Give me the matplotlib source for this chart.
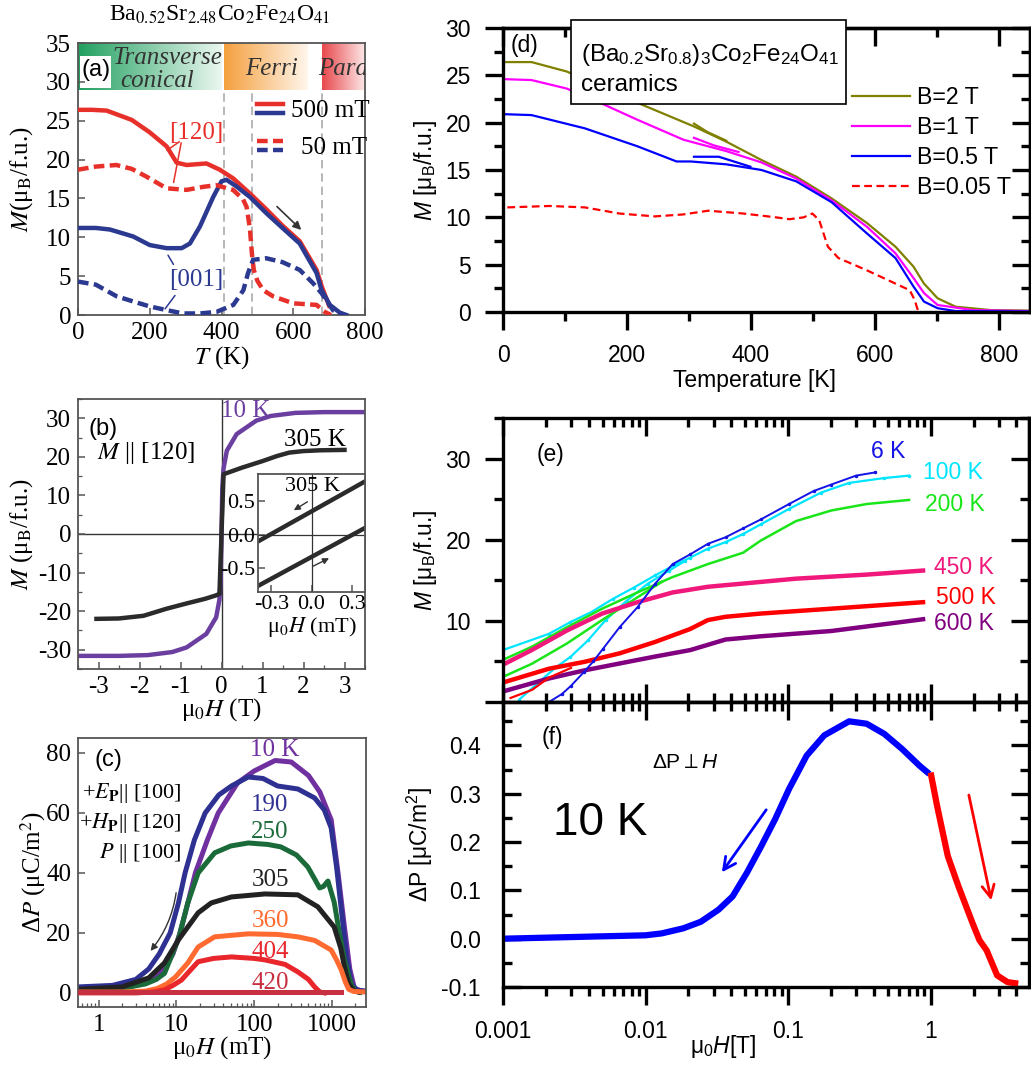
import numpy as np
import matplotlib
matplotlib.use('Agg')
import matplotlib.pyplot as plt
import matplotlib.colors as mcolors
from matplotlib.lines import Line2D
from matplotlib.patches import Rectangle
from matplotlib.legend_handler import HandlerBase
from matplotlib.ticker import (MultipleLocator, FixedLocator, LogLocator,
                               NullFormatter, FixedFormatter, FormatStrFormatter,
                               FuncFormatter, NullLocator)

plt.rcParams['font.family'] = ['Liberation Sans', 'DejaVu Sans']
plt.rcParams['mathtext.fontset'] = 'custom'
plt.rcParams['mathtext.rm'] = 'Liberation Sans'
plt.rcParams['mathtext.it'] = 'Liberation Sans:italic'
plt.rcParams['mathtext.bf'] = 'Liberation Sans:bold'
plt.rcParams['mathtext.fallback'] = 'stixsans'
plt.rcParams['axes.unicode_minus'] = False

SERIF = ['Liberation Serif', 'DejaVu Serif']
SF = dict(family=SERIF, math_fontfamily='stix')

# ------------------------------------------------------------------ data (a)
Ta_500_120 = [0, 40, 80, 150, 200, 247, 275, 303, 330, 358, 395, 432, 480, 525, 570, 618, 665, 680, 700]
Ma_500_120 = [26.4, 26.4, 26.3, 25.1, 23.5, 21.7, 19.6, 19.3, 19.4, 19.5, 18.7, 17.6, 15.6, 13.6, 11.5, 9.5, 5.8, 3.6, 1.2]
Ta_500_001 = [0, 50, 89, 154, 200, 247, 289, 312, 340, 377, 400, 414, 440, 479, 525, 570, 618, 665, 679, 702, 730, 748]
Ma_500_001 = [11.2, 11.2, 11.0, 10.1, 9.0, 8.6, 8.6, 9.2, 11.4, 15.2, 17.2, 17.4, 16.6, 15.2, 13.1, 11.2, 9.2, 5.4, 3.2, 1.3, 0.3, 0.0]
Ta_50_120 = [0, 50, 107, 150, 191, 247, 303, 350, 386, 432, 460, 470, 479, 485, 490, 500, 516, 544, 600, 665, 688, 705]
Ma_50_120 = [18.7, 19.1, 19.3, 18.8, 17.8, 16.3, 16.1, 16.5, 16.7, 16.1, 14.9, 13.9, 11.2, 7.8, 5.8, 4.4, 3.2, 2.4, 1.5, 1.3, 0.4, 0.0]
Ta_50_001 = [0, 50, 108, 150, 200, 250, 293, 340, 386, 433, 461, 474, 488, 525, 570, 618, 655, 679, 711, 739]
Ma_50_001 = [4.3, 3.9, 2.4, 1.8, 1.1, 0.6, 0.2, 0.2, 0.4, 1.3, 3.2, 5.4, 7.1, 7.3, 6.8, 5.8, 4.1, 2.8, 0.6, 0.0]
phase_names = ['Transverse\nconical', 'Ferri', 'Para']

# ------------------------------------------------------------------ data (b)
Hb_10K = [-3.5, -2.5, -1.8, -1.2, -0.85, -0.37, -0.13, -0.05, -0.02, 0.02, 0.05, 0.13, 0.37, 0.85, 1.2, 1.8, 2.5, 3.5]
Mb_10K = [-31.6, -31.6, -31.4, -30.6, -29.4, -25.9, -21.6, -17.0, -12.0, 12.0, 17.0, 21.6, 25.9, 29.4, 30.6, 31.4, 31.6, 31.6]
Hb_305K = [-3.05, -2.5, -1.9, -1.35, -0.85, -0.4, -0.13, -0.05, 0.05, 0.13, 0.5, 1.0, 1.35, 1.65, 2.0, 2.4, 3.0]
Mb_305K = [-22.0, -21.9, -21.2, -19.4, -18.0, -16.8, -15.9, -15.5, 15.5, 15.8, 17.2, 18.9, 20.2, 21.1, 21.5, 21.7, 21.8]
Hi_up = [-0.4, 0.4]
Mi_up = [-0.10, 0.79]
Hi_dn = [-0.4, 0.4]
Mi_dn = [-0.76, 0.10]

# ------------------------------------------------------------------ data (c)
c_labels = ['10 K', '190', '250', '305', '360', '404', '420']
Hc_10 = [0.55, 1.5, 3, 5, 7, 9, 11.1, 14, 17.5, 25, 34.5, 61, 100, 186, 300, 500, 700, 980, 1200, 1450, 1700, 1950, 2300, 2700]
Pc_10 = [1.5, 1.8, 2.5, 4.5, 8, 13, 20, 30, 40, 51, 60, 70, 74, 77.5, 77, 72.5, 67, 57.7, 40, 22, 8, 1.5, 0.8, 0.6]
Hc_190 = [0.55, 1.5, 3, 4.4, 6, 8.3, 10.6, 12.9, 17, 23.4, 35, 51, 84, 130, 200, 365, 600, 800, 980, 1150, 1320, 1550, 1780, 2100, 2700]
Pc_190 = [2, 2.5, 4.5, 8, 13, 20, 30, 40, 51, 60, 66, 69, 72, 71.5, 69, 68, 65, 61, 55, 42, 28, 12, 3, 1, 0.5]
Hc_250 = [0.55, 2, 4, 5.5, 7, 10.6, 14, 19, 31, 50, 84, 150, 220, 350, 490, 600, 695, 780, 890, 1070, 1250, 1450, 1780, 2000, 2300]
Pc_250 = [1, 1.5, 3, 4.5, 6.5, 18, 30, 40, 46.7, 49, 50, 49.5, 48.7, 46, 42, 38, 35, 35.5, 37.3, 30.3, 20, 11, 2.6, 0.5, 0.2]
Hc_305 = [0.55, 2, 4.4, 7, 10.6, 12.3, 19, 28, 51, 138, 365, 660, 1070, 1300, 1450, 1650, 1900, 2200]
Pc_305 = [1.2, 2, 5, 10, 17.7, 20, 26.7, 30, 32, 33, 32.7, 28.7, 22, 15, 8.7, 3, 0.8, 0.3]
Hc_360 = [0.55, 2, 4, 5.7, 7.5, 9.7, 14, 19, 31, 84, 200, 365, 600, 980, 1150, 1320, 1500, 1650, 1900, 2700]
Pc_360 = [0.3, 0.3, 0.6, 1.5, 3, 5.3, 10, 15.3, 18.7, 19.7, 19.5, 18.7, 17.5, 14.3, 11, 7.7, 3.5, 1.2, 0.5, 0.3]
Hc_404 = [0.55, 3, 5, 7, 9, 11.6, 15, 19, 30, 51, 100, 138, 250, 365, 500, 600, 700, 800]
Pc_404 = [0, 0, 0.3, 1, 2.5, 4.3, 7.5, 10.4, 11.5, 12, 11.5, 11, 9.5, 7, 4.5, 2, 0.3, 0]
Hc_420 = [0.55, 1300]
Pc_420 = [0.2, 0.2]

# ------------------------------------------------------------------ data (d)
d_labels = ['B=2 T', 'B=1 T', 'B=0.5 T', 'B=0.05 T']
Td_2T = [0, 46, 103, 150, 206, 257, 308, 360, 417, 473, 530, 587, 633, 662, 679, 701, 730, 787, 850]
Md_2T = [26.4, 26.4, 25.4, 24.0, 22.4, 21.0, 19.6, 18.0, 16.05, 14.3, 12.0, 9.4, 6.9, 4.8, 3.0, 1.45, 0.56, 0.2, 0.15]
Td_2T_b = [308, 330, 360]
Md_2T_b = [19.9, 19.0, 18.1]
Td_1T = [0, 46, 103, 160, 217, 291, 308, 360, 417, 473, 530, 587, 633, 662, 679, 701, 758, 850]
Md_1T = [24.6, 24.5, 23.6, 22.0, 20.3, 18.2, 17.9, 17.0, 15.8, 14.1, 11.8, 9.0, 6.2, 3.6, 2.0, 0.74, 0.2, 0.1]
Td_1T_b = [308, 340, 380]
Md_1T_b = [18.4, 17.6, 16.9]
Td_05T = [0, 46, 132, 217, 280, 303, 360, 417, 473, 530, 587, 633, 662, 679, 701, 730, 850]
Md_05T = [20.9, 20.8, 19.4, 17.5, 15.9, 15.9, 15.6, 15.0, 13.8, 11.6, 8.3, 5.7, 2.7, 1.1, 0.4, 0.1, 0.05]
Td_05T_b = [308, 348, 399]
Md_05T_b = [16.4, 16.4, 15.35]
Td_005T = [7, 75, 132, 188, 245, 290, 331, 388, 440, 462, 485, 499, 510, 524, 541, 587, 633, 656, 664, 670]
Md_005T = [11.05, 11.2, 11.05, 10.4, 10.1, 10.3, 10.7, 10.4, 10.0, 9.8, 10.0, 10.4, 9.7, 6.9, 5.7, 4.4, 3.0, 2.3, 1.27, 0.0]

# ------------------------------------------------------------------ data (e)
e_labels = ['6 K', '100 K', '200 K', '450 K', '500 K', '600 K']
He_6 = [0.0021, 0.0026, 0.0030, 0.0037, 0.0043, 0.0050, 0.0066, 0.0088, 0.0117, 0.0155, 0.0206, 0.0274, 0.0364, 0.0484, 0.0644, 0.1016, 0.151, 0.201, 0.30, 0.41]
Me_6 = [0, 1.0, 2.0, 3.7, 5.0, 6.5, 9.25, 11.7, 14.6, 17.0, 18.2, 19.5, 20.3, 21.4, 22.5, 24.4, 26.0, 26.8, 27.9, 28.3]
He_100 = [0.001, 0.0021, 0.00297, 0.00418, 0.00589, 0.00828, 0.01167, 0.0164, 0.0206, 0.0274, 0.0364, 0.0484, 0.0644, 0.1016, 0.17, 0.268, 0.473, 0.706]
Me_100 = [6.4, 8.4, 9.85, 11.1, 12.7, 14.1, 15.6, 17.0, 17.8, 18.9, 19.7, 20.7, 21.9, 23.8, 25.8, 27.0, 27.6, 27.9]
He_100_b = [0.0013, 0.0018, 0.00236, 0.00297, 0.00395, 0.00525, 0.0074, 0.0104, 0.01465, 0.019]
Me_100_b = [0.3, 2.5, 4.3, 5.55, 7.6, 10.1, 12.5, 14.6, 16.2, 17.4]
He_200 = [0.001, 0.00159, 0.0028, 0.00496, 0.00877, 0.0155, 0.0274, 0.0484, 0.0644, 0.1138, 0.201, 0.356, 0.706]
Me_200 = [5.2, 6.8, 9.2, 11.5, 13.5, 15.4, 17.0, 18.4, 19.9, 22.3, 23.6, 24.4, 24.9]
He_200_b = [0.001, 0.00159, 0.0028, 0.00496, 0.00877, 0.013]
Me_200_b = [3.1, 4.7, 7.2, 10.1, 12.9, 14.8]
He_450 = [0.001, 0.00159, 0.0028, 0.00496, 0.00877, 0.0155, 0.0274, 0.0484, 0.1138, 0.356, 0.885]
Me_450 = [4.6, 6.4, 8.8, 10.9, 12.3, 13.5, 14.2, 14.6, 15.2, 15.7, 16.2]
He_500 = [0.001, 0.0021, 0.00373, 0.00659, 0.01167, 0.0206, 0.0274, 0.0364, 0.0644, 0.201, 0.885]
Me_500 = [2.4, 4.1, 4.95, 6.0, 7.4, 9.0, 10.1, 10.5, 10.9, 11.5, 12.3]
He_500_b = [0.00113, 0.0016, 0.0021, 0.003]
Me_500_b = [0.5, 1.5, 3.0, 4.2]
He_600 = [0.001, 0.0021, 0.00373, 0.00659, 0.01167, 0.0206, 0.0364, 0.0644, 0.201, 0.885]
Me_600 = [1.3, 2.9, 3.9, 4.75, 5.6, 6.4, 7.7, 8.1, 8.75, 10.2]

# ------------------------------------------------------------------ data (f)
Hf_down = [0.001, 0.00265, 0.01, 0.013, 0.0184, 0.0244, 0.0325, 0.0408, 0.0513, 0.0644, 0.081, 0.1016, 0.135, 0.1795, 0.268, 0.356, 0.473, 0.629, 0.837, 0.98]
Pf_down = [0.0, 0.003, 0.007, 0.011, 0.0215, 0.035, 0.06, 0.0875, 0.136, 0.19, 0.247, 0.31, 0.379, 0.421, 0.45, 0.445, 0.424, 0.393, 0.358, 0.341]
Hf_up = [1.0, 1.11, 1.32, 1.57, 1.97, 2.2, 2.47, 2.93, 3.47, 4.12]
Pf_up = [0.344, 0.275, 0.171, 0.108, 0.032, -0.003, -0.024, -0.076, -0.09, -0.093]

# ================================================================== figure
W, H = 1031, 1070
fig = plt.figure(figsize=(W / 100, H / 100), dpi=100)


def rect(x0, y0, x1, y1):
    return [x0 / W, 1 - y1 / H, (x1 - x0) / W, (y1 - y0) / H]


def serif_axes(ax, size=18):
    for s in ax.spines.values():
        s.set_color('#555555')
        s.set_linewidth(1.3)
    ax.tick_params(which='both', direction='in', color='#555555', labelsize=size,
                   labelfontfamily=SERIF, pad=5)
    ax.tick_params(which='major', length=5, width=1.1)
    ax.tick_params(which='minor', length=3, width=0.9)


SW = 2.4


def sans_common(ax):
    for s in ax.spines.values():
        s.set_linewidth(SW)
    ax.tick_params(which='both', width=SW, labelsize=16.5, color='black')
    ax.tick_params(which='major', length=13)
    ax.tick_params(which='minor', length=6.5)


def sec_axis(ax, side, major, minor):
    if side in ('top', 'bottom'):
        sec = ax.secondary_xaxis(side)
        a = sec.xaxis
    else:
        sec = ax.secondary_yaxis(side)
        a = sec.yaxis
    a.set_major_locator(major)
    a.set_minor_locator(minor)
    a.set_major_formatter(NullFormatter())
    a.set_minor_formatter(NullFormatter())
    sec.tick_params(which='both', direction='in', width=SW)
    sec.tick_params(which='major', length=13)
    sec.tick_params(which='minor', length=6.5)
    sec.spines[side].set_linewidth(SW)
    return sec


class TwoLines(HandlerBase):
    def create_artists(self, legend, orig_handle, xdescent, ydescent, width, height, fontsize, trans):
        out = []
        for h, dy in zip(orig_handle, (3.2, -3.2)):
            y = height / 2 - ydescent + dy
            ln = Line2D([-xdescent, -xdescent + width], [y, y])
            ln.update_from(h)
            ln.set_transform(trans)
            out.append(ln)
        return out


# ------------------------------------------------------------------ panel (a)
RED_A, BLUE_A = '#E8302A', '#2B3990'
axA = fig.add_axes(rect(78, 43, 365, 315))
serif_axes(axA)
BAND_Y0 = 28.9


def band(ax, x0, x1, c0, c1):
    t = np.linspace(0, 1, 200)[:, None]
    a = np.array(mcolors.to_rgb(c0))
    b = np.array(mcolors.to_rgb(c1))
    img = (a * (1 - t) + b * t)[None, :, :]
    ax.imshow(img, extent=[x0, x1, BAND_Y0, 35], aspect='auto', interpolation='bilinear', zorder=0.5)


band(axA, 0, 400, '#22A060', '#EAF7F0')
band(axA, 408, 640, '#F4A03E', '#FFF6EC')
band(axA, 680, 795, '#E8484C', '#FCE3E3')
axA.add_patch(Rectangle((5, 29.2), 88, 4.1, fc='white', ec='none', zorder=1))
for xv in (407, 485, 679):
    axA.plot([xv, xv], [0, BAND_Y0], color='#AAAAAA', lw=1.2, dashes=(5, 3), zorder=1)

l1, = axA.plot(Ta_500_120, Ma_500_120, color=RED_A, lw=3.2, zorder=3)
l2, = axA.plot(Ta_500_001, Ma_500_001, color=BLUE_A, lw=3.2, zorder=3)
l3, = axA.plot(Ta_50_120, Ma_50_120, color=RED_A, lw=3.2, dashes=(2.4, 1.2), zorder=3)
l4, = axA.plot(Ta_50_001, Ma_50_001, color=BLUE_A, lw=3.2, dashes=(2.4, 1.2), zorder=3)
axA.set_xlim(0, 800)
axA.set_ylim(0, 35)
axA.xaxis.set_major_locator(MultipleLocator(200))
axA.yaxis.set_major_locator(MultipleLocator(5))

axA.text(248, 33.1, 'Transverse', ha='center', va='center', fontsize=18, style='italic', color='#333333', **SF)
axA.text(220, 30.1, 'conical', ha='center', va='center', fontsize=18, style='italic', color='#333333', **SF)
axA.text(540, 31.6, phase_names[1], ha='center', va='center', fontsize=18, style='italic', color='#333333', **SF)
axA.text(738, 31.6, phase_names[2], ha='center', va='center', fontsize=18, style='italic', color='#333333',
         clip_on=True, **SF)
axA.text(50, 31.5, '(a)', ha='center', va='center', fontsize=17, zorder=4)

axA.text(331, 23.4, '[120]', ha='center', va='center', fontsize=18, color=RED_A, **SF)
axA.annotate('', xy=(242, 21.0), xytext=(289, 22.5), arrowprops=dict(arrowstyle='-', color=RED_A, lw=1.1))
axA.annotate('', xy=(265, 16.7), xytext=(289, 22.5), arrowprops=dict(arrowstyle='-', color=RED_A, lw=1.1))
axA.text(331, 4.5, '[001]', ha='center', va='center', fontsize=18, color=BLUE_A, **SF)
axA.annotate('', xy=(247, 8.0), xytext=(270, 6.2), arrowprops=dict(arrowstyle='-', color=BLUE_A, lw=1.1))
axA.annotate('', xy=(238, 0.5), xytext=(275, 2.8), arrowprops=dict(arrowstyle='-', color=BLUE_A, lw=1.1))
axA.annotate('', xy=(628, 10.7), xytext=(549, 14.2),
             arrowprops=dict(arrowstyle='-|>', color='#333333', lw=1.2, mutation_scale=12))

legA1 = axA.legend([(l1, l2)], ['500 mT'], handler_map={tuple: TwoLines()}, loc='center left',
                   bbox_to_anchor=(257 / W, 1 - 111 / H), bbox_transform=fig.transFigure,
                   frameon=False, borderpad=0, borderaxespad=0, handlelength=1.05, handletextpad=0.3,
                   prop=dict(family=SERIF, size=18))
axA.add_artist(legA1)
legA2 = axA.legend([(l3, l4)], ['50 mT'], handler_map={tuple: TwoLines()}, loc='center left',
                   bbox_to_anchor=(257 / W, 1 - 148 / H), bbox_transform=fig.transFigure,
                   frameon=False, borderpad=0, borderaxespad=0, handlelength=1.05, handletextpad=0.7,
                   prop=dict(family=SERIF, size=18))

axA.set_xlabel('$T$ (K)', fontsize=18, **SF)
axA.set_ylabel('$M$(μ$_{\\rm B}$/f.u.)', fontsize=18, **SF)
axA.xaxis.set_label_coords(0.5, -0.158)
axA.yaxis.set_label_coords(-0.195, 0.5)
axA.xaxis.label.set_va('center')
axA.yaxis.label.set_va('center')
fig.text(220 / W, 1 - 15 / H, 'Ba$_{0.52}$Sr$_{2.48}$Co$_2$Fe$_{24}$O$_{41}$', ha='center', va='center',
         fontsize=17, **SF)

# ------------------------------------------------------------------ panel (b)
axB = fig.add_axes(rect(78, 399, 365, 669))
serif_axes(axB)
axB.axhline(0, color='#333333', lw=1.0, zorder=1)
axB.axvline(0, color='#333333', lw=1.0, zorder=1)
axB.plot(Hb_10K, Mb_10K, color='#6B3FA0', lw=3.2, zorder=2)
axB.plot(Hb_305K, Mb_305K, color='#2B2B2B', lw=3.2, zorder=3)
axB.set_xlim(-3.5, 3.5)
axB.set_ylim(-35, 35)
axB.xaxis.set_major_locator(MultipleLocator(1))
axB.xaxis.set_minor_locator(MultipleLocator(0.5))
axB.yaxis.set_major_locator(MultipleLocator(10))
axB.yaxis.set_minor_locator(MultipleLocator(5))
axB.text(-2.9, 27.2, '(b)', ha='center', va='center', fontsize=17)
axB.text(-1.84, 21.1, '$M$ || [120]', ha='center', va='center', fontsize=18, **SF)
axB.text(0.6, 31.9, '10 K', ha='center', va='center', fontsize=18, color='#6B3FA0', **SF)
axB.text(2.27, 24.5, '305 K', ha='center', va='center', fontsize=18, **SF)
axB.set_xlabel('μ$_0$$H$ (T)', fontsize=18, **SF)
axB.set_ylabel('$M$ (μ$_{\\rm B}$/f.u.)', fontsize=18, **SF)
axB.xaxis.set_label_coords(0.5, -0.152)
axB.yaxis.set_label_coords(-0.195, 0.5)
axB.xaxis.label.set_va('center')
axB.yaxis.label.set_va('center')

axI = fig.add_axes(rect(258, 474, 365, 592))
serif_axes(axI, size=16)
axI.set_facecolor('white')
axI.axhline(0, color='#333333', lw=0.9)
axI.axvline(0, color='#333333', lw=0.9)
axI.plot(Hi_up, Mi_up, color='#2B2B2B', lw=3.2)
axI.plot(Hi_dn, Mi_dn, color='#2B2B2B', lw=3.2)
axI.set_xlim(-0.4, 0.4)
axI.set_ylim(-0.85, 0.9)
axI.xaxis.set_major_locator(FixedLocator([-0.3, 0.0, 0.3]))
axI.yaxis.set_major_locator(FixedLocator([-0.5, 0.0, 0.5]))
axI.xaxis.set_major_formatter(FormatStrFormatter('%.1f'))
axI.yaxis.set_major_formatter(FormatStrFormatter('%.1f'))
axI.tick_params(pad=2)
axI.annotate('', xy=(-0.15, 0.34), xytext=(-0.013, 0.51),
             arrowprops=dict(arrowstyle='-|>', color='#333333', lw=1.0, mutation_scale=9))
axI.annotate('', xy=(0.15, -0.33), xytext=(-0.006, -0.485),
             arrowprops=dict(arrowstyle='-|>', color='#333333', lw=1.0, mutation_scale=9))
axI.text(0.01, 0.72, '305 K', ha='center', va='center', fontsize=16, **SF)
axI.set_xlabel('μ$_0$$H$ (mT)', fontsize=16, labelpad=1, **SF)

# ------------------------------------------------------------------ panel (c)
axC = fig.add_axes(rect(78, 738, 366, 1007))
serif_axes(axC)
c_colors = ['#7030A0', '#2E3192', '#1B6B3A', '#222222', '#FF6A30', '#E8262C', '#C73040']
c_H = [Hc_10, Hc_190, Hc_250, Hc_305, Hc_360, Hc_404, Hc_420]
c_P = [Pc_10, Pc_190, Pc_250, Pc_305, Pc_360, Pc_404, Pc_420]
c_order = [6, 5, 4, 3, 2, 0, 1]
for i in c_order:
    axC.plot(c_H[i], c_P[i], color=c_colors[i], lw=3.6, zorder=2 + i * 0.1)
axC.set_xscale('log')
axC.set_xlim(0.54, 2750)
axC.set_ylim(-4.7, 85)
axC.xaxis.set_major_locator(FixedLocator([1, 10, 100, 1000]))
axC.xaxis.set_major_formatter(FixedFormatter(['1', '10', '100', '1000']))
axC.xaxis.set_minor_locator(LogLocator(base=10, subs=np.arange(2, 10), numticks=20))
axC.xaxis.set_minor_formatter(NullFormatter())
axC.yaxis.set_major_locator(MultipleLocator(20))
c_lab_pos = [(184, 81), (160, 62.7), (160, 53.7), (160, 37.7), (160, 24), (160, 13.7), (160, 3.3)]
for i, (xx, yy) in enumerate(c_lab_pos):
    axC.text(xx, yy, c_labels[i], ha='center', va='center', fontsize=18, color=c_colors[i], **SF)
axC.text(1.34, 77.7, '(c)', ha='center', va='center', fontsize=17)
axC.text(11.6, 66.7, '+$E_{\\mathbf{P}}$|| [100]', ha='right', va='center', fontsize=16, **SF)
axC.text(11.6, 56.7, '+$H_{\\mathbf{P}}$|| [120]', ha='right', va='center', fontsize=16, **SF)
axC.text(11.6, 46.7, '$P$ || [100]', ha='right', va='center', fontsize=16, **SF)
axC.annotate('', xy=(4.4, 13.3), xytext=(10, 34.3),
             arrowprops=dict(arrowstyle='-|>', color='#333333', lw=1.0, mutation_scale=10,
                             connectionstyle='arc3,rad=-0.15'))
axC.set_xlabel('μ$_0$$H$ (mT)', fontsize=18, **SF)
axC.set_ylabel('Δ$P$ (μC/m$^2$)', fontsize=18, **SF)
axC.xaxis.set_label_coords(0.5, -0.152)
axC.yaxis.set_label_coords(-0.156, 0.5)
axC.xaxis.label.set_va('center')
axC.yaxis.label.set_va('center')

# ------------------------------------------------------------------ panel (d)
axD = fig.add_axes(rect(503, 28, 1030, 312))
sans_common(axD)
axD.tick_params(which='both', direction='out', pad=10)
d_colors = ['#808000', '#FF00FF', '#0000FF', '#FF0000']
ld = []
ld.append(axD.plot(Td_2T, Md_2T, color=d_colors[0], lw=1.6)[0])
axD.plot(Td_2T_b, Md_2T_b, color=d_colors[0], lw=1.6)
ld.append(axD.plot(Td_1T, Md_1T, color=d_colors[1], lw=1.6)[0])
axD.plot(Td_1T_b, Md_1T_b, color=d_colors[1], lw=1.6)
ld.append(axD.plot(Td_05T, Md_05T, color=d_colors[2], lw=1.6)[0])
axD.plot(Td_05T_b, Md_05T_b, color=d_colors[2], lw=1.6)
ld.append(axD.plot(Td_005T, Md_005T, color=d_colors[3], lw=1.6, dashes=(3.5, 2))[0])
axD.set_xlim(0, 850)
axD.set_ylim(0, 30)
axD.xaxis.set_major_locator(MultipleLocator(200))
axD.xaxis.set_minor_locator(MultipleLocator(100))
axD.yaxis.set_major_locator(MultipleLocator(5))
axD.yaxis.set_minor_locator(MultipleLocator(2.5))
sec_axis(axD, 'top', MultipleLocator(200), MultipleLocator(100))
sec_axis(axD, 'right', MultipleLocator(5), MultipleLocator(2.5))
axD.add_patch(Rectangle((109, 22.0), 444, 8.8, fc='white', ec='black', lw=1.2, zorder=5, clip_on=False))
axD.text(126, 27.1, '(Ba$_{0.2}$Sr$_{0.8}$)$_3$Co$_2$Fe$_{24}$O$_{41}$', ha='left', va='center',
         fontsize=17.5, zorder=6)
axD.text(126, 24.0, 'ceramics', ha='left', va='center', fontsize=17.5, zorder=6)
axD.text(34, 28.2, '(d)', ha='center', va='center', fontsize=16.5)
axD.legend(ld, d_labels, loc='upper left', bbox_to_anchor=(852 / W, 1 - 86 / H),
           bbox_transform=fig.transFigure, frameon=False, borderpad=0, borderaxespad=0,
           handlelength=2.5, handletextpad=0.3, labelspacing=0.3, fontsize=16.7)
axD.set_xlabel('Temperature [K]', fontsize=16.5)
axD.set_ylabel('$M$ [μ$_{\\rm B}$/f.u.]', fontsize=16.5)
axD.xaxis.set_label_coords(0.478, -0.24)
axD.yaxis.set_label_coords(-0.148, 0.5)
axD.xaxis.label.set_va('center')
axD.yaxis.label.set_va('center')

# ------------------------------------------------------------------ panel (e)
axE = fig.add_axes(rect(503, 418, 1029, 702))
sans_common(axE)
e_colors = ['#1414E6', '#00E5FF', '#19E619', '#F0187A', '#FF0000', '#800080']
axE.plot(He_100, Me_100, color=e_colors[1], lw=1.6, marker='.', ms=3)
axE.plot(He_100_b, Me_100_b, color=e_colors[1], lw=1.6, marker='.', ms=3)
axE.plot(He_200, Me_200, color=e_colors[2], lw=1.8)
axE.plot(He_200_b, Me_200_b, color=e_colors[2], lw=1.8)
axE.plot(He_600, Me_600, color=e_colors[5], lw=3.2)
axE.plot(He_500, Me_500, color=e_colors[4], lw=3.2)
axE.plot(He_500_b, Me_500_b, color=e_colors[4], lw=1.6)
axE.plot(He_450, Me_450, color=e_colors[3], lw=3.2)
axE.plot(He_6, Me_6, color=e_colors[0], lw=1.4, marker='.', ms=3)
axE.set_xscale('log')
axE.set_xlim(0.001, 4.9)
axE.set_ylim(0, 35)
axE.xaxis.set_major_locator(LogLocator(base=10, numticks=20))
axE.xaxis.set_minor_locator(LogLocator(base=10, subs=np.arange(2, 10), numticks=20))
axE.xaxis.set_major_formatter(NullFormatter())
axE.xaxis.set_minor_formatter(NullFormatter())
axE.yaxis.set_major_locator(MultipleLocator(10))
axE.yaxis.set_minor_locator(MultipleLocator(5))
axE.yaxis.set_major_formatter(FuncFormatter(lambda v, p: '' if abs(v) < 1e-9 else '%d' % v))
axE.tick_params(axis='x', which='both', direction='in', top=True, bottom=True, labelbottom=False)
axE.tick_params(axis='y', which='both', direction='out', pad=10)
sec_axis(axE, 'right', MultipleLocator(10), MultipleLocator(5))
e_lab_pos = [(0.50, 30.9), (1.44, 28.3), (1.48, 24.4), (1.71, 16.6), (1.76, 12.9), (1.71, 9.65)]
for i, (xx, yy) in enumerate(e_lab_pos):
    axE.text(xx, yy, e_labels[i], ha='center', va='center', fontsize=16.5, color=e_colors[i])
axE.text(0.00217, 30.5, '(e)', ha='center', va='center', fontsize=16.5)
axE.set_ylabel('$M$ [μ$_{\\rm B}$/f.u.]', fontsize=16.5)
axE.yaxis.set_label_coords(-0.148, 0.5)
axE.yaxis.label.set_va('center')

# ------------------------------------------------------------------ panel (f)
axF = fig.add_axes(rect(503, 702, 1029, 987))
sans_common(axF)
axF.plot(Hf_down, Pf_down, color='#0000FF', lw=4.5, solid_capstyle='butt')
axF.plot(Hf_up, Pf_up, color='#FF0000', lw=4.5, solid_capstyle='butt')
axF.set_xscale('log')
axF.set_xlim(0.001, 4.9)
axF.set_ylim(-0.1, 0.49)
axF.xaxis.set_major_locator(FixedLocator([0.001, 0.01, 0.1, 1]))
axF.xaxis.set_major_formatter(FixedFormatter(['0.001', '0.01', '0.1', '1']))
axF.xaxis.set_minor_locator(LogLocator(base=10, subs=np.arange(2, 10), numticks=20))
axF.xaxis.set_minor_formatter(NullFormatter())
axF.yaxis.set_major_locator(MultipleLocator(0.1))
axF.yaxis.set_minor_locator(MultipleLocator(0.05))
axF.yaxis.set_major_formatter(FormatStrFormatter('%.1f'))
axF.tick_params(axis='x', which='both', direction='out', pad=11)
axF.tick_params(axis='y', which='both', direction='in', left=True, right=True, pad=16)
sec_axis(axF, 'top', LogLocator(base=10, numticks=20), LogLocator(base=10, subs=np.arange(2, 10), numticks=20))
axF.annotate('', xy=(0.0334, 0.1326), xytext=(0.0721, 0.2715),
             arrowprops=dict(arrowstyle='->', color='#0000FF', lw=2.0, mutation_scale=22))
axF.annotate('', xy=(2.69, 0.0736), xytext=(1.837, 0.303),
             arrowprops=dict(arrowstyle='->', color='#FF0000', lw=2.0, mutation_scale=22))
axF.text(0.00223, 0.417, '(f)', ha='center', va='center', fontsize=16.5)
axF.text(0.0189, 0.365, 'ΔP$\\perp$$H$', ha='center', va='center', fontsize=15)
axF.text(0.00482, 0.24, '10 K', ha='center', va='center', fontsize=33)
axF.set_xlabel('μ$_0$$H$[T]', fontsize=16.5)
axF.set_ylabel('ΔP [μC/m$^2$]', fontsize=16.5)
axF.xaxis.set_label_coords(0.418, -0.21)
axF.yaxis.set_label_coords(-0.158, 0.5)
axF.xaxis.label.set_va('center')
axF.yaxis.label.set_va('center')

fig.savefig('out.png', dpi=100)
